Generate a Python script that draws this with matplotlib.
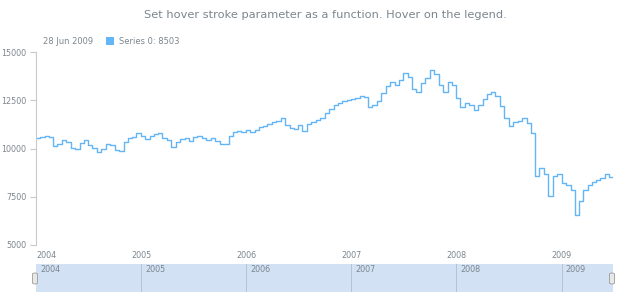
import numpy as np
import pandas as pd
import matplotlib
matplotlib.use("Agg")
from matplotlib import pyplot as plt
import matplotlib.dates as mdates
from matplotlib.patches import FancyBboxPatch

# semi-monthly closing values (1st and 15th of each month)
values_2004 = [10550, 10600, 10650, 10600, 10150, 10250, 10450, 10350, 10050, 9950, 10300, 10450,
               10200, 10050, 9800, 9950, 10250, 10200, 9900, 9850, 10350, 10550, 10600, 10800]
values_2005 = [10650, 10500, 10650, 10750, 10800, 10550, 10450, 10100, 10350, 10500, 10550, 10400,
               10600, 10650, 10550, 10450, 10550, 10400, 10250, 10250, 10650, 10850, 10900, 10850]
values_2006 = [10950, 10850, 10950, 11100, 11150, 11250, 11350, 11400, 11600, 11200, 11050, 11000,
               11200, 10900, 11250, 11350, 11500, 11600, 11850, 12050, 12250, 12350, 12450, 12500]
values_2007 = [12550, 12600, 12700, 12650, 12150, 12250, 12450, 12900, 13250, 13450, 13300, 13550,
               13900, 13700, 13100, 12950, 13400, 13650, 14050, 13850, 13300, 12950, 13450, 13300]
values_2008 = [12600, 12150, 12350, 12250, 12000, 12250, 12550, 12800, 12950, 12700, 12200, 11600,
               11150, 11350, 11450, 11600, 11300, 10800, 8550, 9000, 8700, 7550, 8600, 8700]
values_2009 = [8200, 8100, 7850, 6550, 7300, 7850, 8100, 8250, 8350, 8450, 8700, 8503]

last_date = "2009-06-28"
last_value = 8503
years = [2004, 2005, 2006, 2007, 2008, 2009]
y_ticks = [5000, 7500, 10000, 12500, 15000]

title = "Set hover stroke parameter as a function. Hover on the legend."
series_name = "Series 0"

line_color = "#64b5f6"
text_color = "#7c868e"
axis_color = "#c9c9c9"

values = values_2004 + values_2005 + values_2006 + values_2007 + values_2008 + values_2009
dates = list(pd.date_range("2004-01-01", "2009-06-15", freq="SMS"))
dates.append(pd.Timestamp(last_date))
values.append(last_value)

W, H = 620, 300
fig = plt.figure(figsize=(W / 100, H / 100), dpi=100)
fig.patch.set_facecolor("white")

def fx(px):
    return px / W

def fy(py):
    return 1 - py / H

x_left, x_right = 36, 613
xlim = (pd.Timestamp("2004-01-01"), pd.Timestamp(last_date))

# main plot
ax = fig.add_axes([fx(x_left), fy(245), fx(x_right - x_left), (245 - 52) / H])
ax.step(dates, values, where="post", color=line_color, lw=1.0)
ax.set_xlim(xlim)
ax.set_ylim(5000, 15000)
ax.set_yticks(y_ticks)
ax.set_yticklabels([str(v) for v in y_ticks], fontsize=5.8, color=text_color)
year_dates = [pd.Timestamp(f"{y}-01-01") for y in years]
ax.set_xticks(year_dates)
ax.set_xticklabels([str(y) for y in years], fontsize=5.8, color=text_color)
ax.tick_params(axis="x", length=0, pad=4)
ax.tick_params(axis="y", length=4, color=axis_color, pad=3)
ax.get_xticklabels()[0].set_ha("left")
for s in ["top", "right", "bottom"]:
    ax.spines[s].set_visible(False)
ax.spines["left"].set_color(axis_color)
ax.spines["left"].set_linewidth(0.8)
ax.patch.set_alpha(0)

# title and legend readout
fig.text(fx(325), fy(15), title, ha="center", va="center", fontsize=8.2, color=text_color)
fig.text(fx(43), fy(41), "28 Jun 2009", ha="left", va="center", fontsize=6, color=text_color)
fig.patches.append(plt.Rectangle((fx(106), fy(45)), fx(8), 8 / H, transform=fig.transFigure,
                                 facecolor=line_color, edgecolor="none"))
fig.text(fx(119), fy(41), f"{series_name}: {last_value}", ha="left", va="center",
         fontsize=6, color=text_color)

# scroller
sc = fig.add_axes([fx(x_left), fy(292), fx(x_right - x_left), 28 / H])
sc.set_facecolor("#d2e2f4")
sc.set_xlim(xlim)
sc.set_ylim(0, 1)
sc.set_xticks([])
sc.set_yticks([])
for s in sc.spines.values():
    s.set_visible(False)
for d, y in zip(year_dates, years):
    if y > years[0]:
        sc.axvline(d, color="#b4c4d6", lw=0.7)
    sc.text(d + pd.Timedelta(days=14), 0.82, str(y), fontsize=5.8, color=text_color,
            ha="left", va="center")

for hx in [35, 612]:
    fig.patches.append(FancyBboxPatch((fx(hx - 2.5), fy(284)), fx(5), 11 / H,
                                      boxstyle="round,pad=0,rounding_size=0.004",
                                      transform=fig.transFigure, facecolor="#e8e8e8",
                                      edgecolor="#9a9a9a", lw=0.6, zorder=5))

fig.savefig("out.png", dpi=100)
